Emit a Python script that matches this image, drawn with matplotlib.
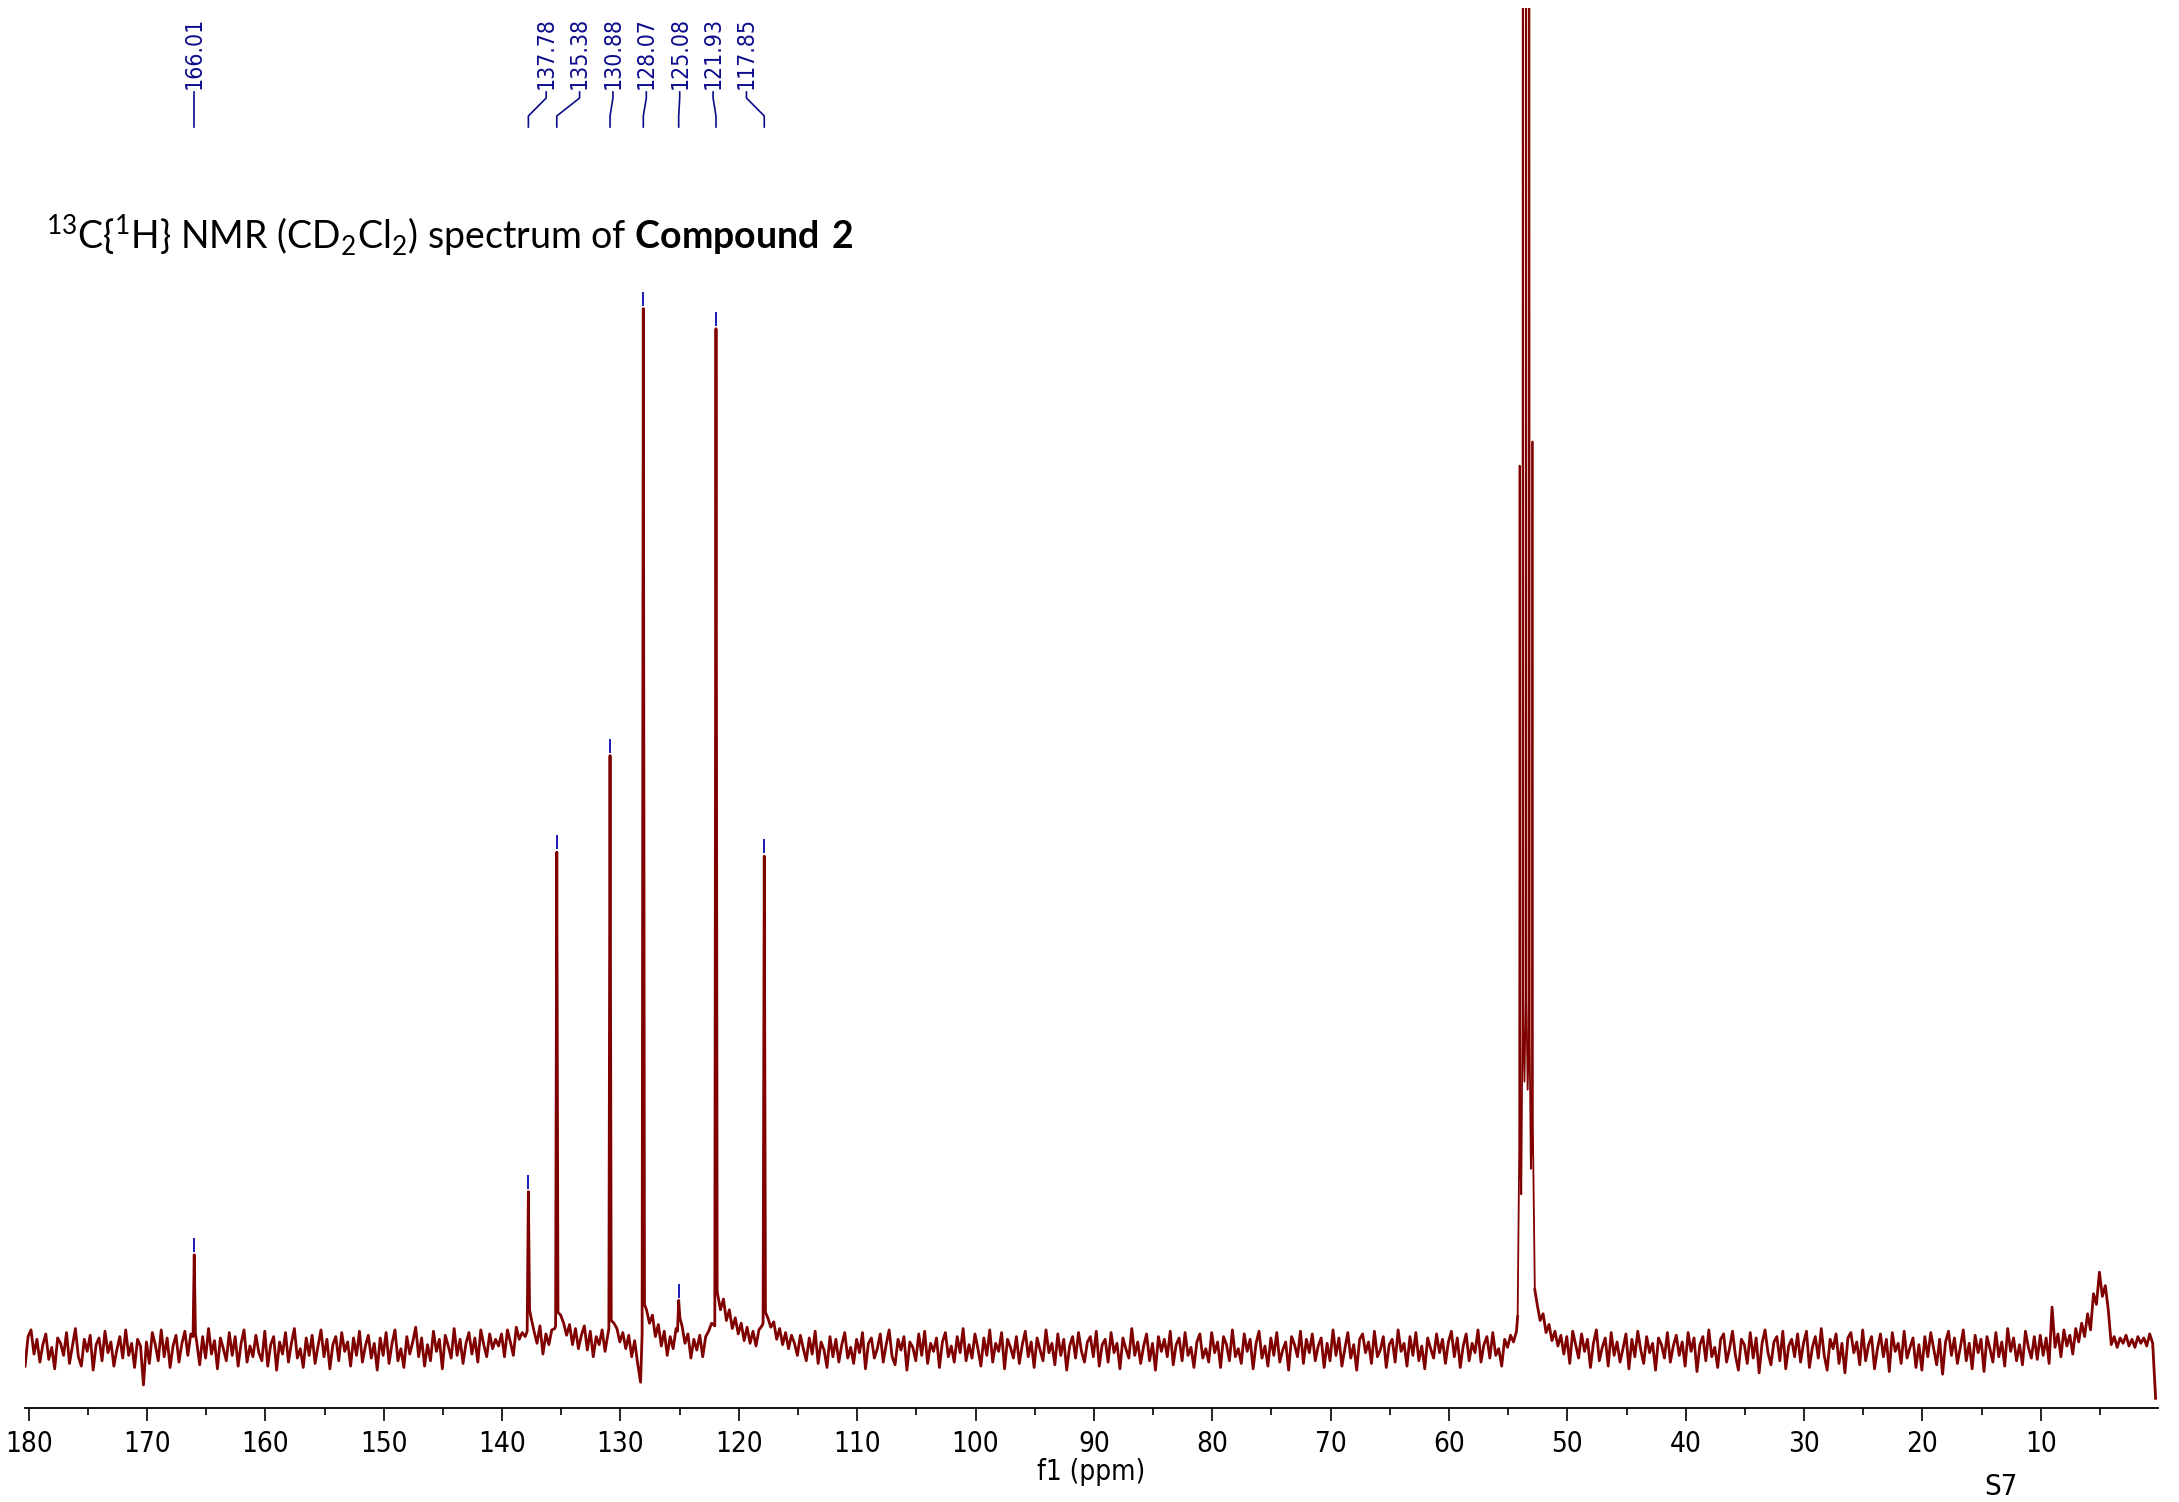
import numpy as np
import matplotlib.pyplot as plt
from matplotlib import font_manager
from matplotlib.transforms import blended_transform_factory

# labelled peaks: shift (ppm), top above baseline, tail level on each side
peak_ppm = [166.01, 137.78, 135.38, 130.88, 128.07, 125.08, 121.93, 117.85]
peak_height = [71, 118, 371, 443, 776, 37, 761, 368]
peak_foot_left = [10, 14, 18, 16, 12, 14, 18, 20]
peak_foot_right = [12, 30, 28, 22, 34, 24, 45, 28]

# CD2Cl2 solvent quintet (tops above the window are clipped)
solvent_ppm = [54.03, 53.76, 53.49, 53.22, 52.95]
solvent_height = [659, 1330, 2000, 1330, 677]
solvent_shoulder = [150, 240, 260, 230, 165]
solvent_valley = [116, 200, 194, 135]
solvent_foot = [25, 45]

# baseline every 0.25 ppm, 180.3 ppm down to 0.3 ppm
baseline_start = 180.3
baseline_step = 0.25
baseline = [
    -12, 10, 15, -3, 8, -9, 4, 12, -7, 2, -14, 9, 5, -4, 13, -10, 3, 16, -5, -12,
    8, -1, 11, -15, 4, 9, -8, 14, -2, 6, -12, 0, 10, -6, 15, -4, 5, -13, 8, 3,
    -26, 6, -10, 13, 4, -8, 15, -5, 9, -13, 3, 11, -9, 5, 14, -4, 12, 0, 6, -11,
    10, -6, 16, -3, 7, -14, 9, 1, -8, 13, -4, 10, -12, 5, 15, -9, 3, -5, 11, -2,
    -8, 14, -12, 4, 10, -15, 6, -3, 13, -9, 5, 16, -6, 1, -13, 9, -4, 11, -10, 3,
    15, -5, 8, -14, 4, 10, -8, 13, -1, 6, -12, 9, -4, 14, -9, 3, 11, -6, 5, -15,
    9, -4, 13, -10, 5, 15, -8, 1, -13, 10, -3, 6, 17, -5, 9, -12, 4, -8, 14, -1,
    8, -14, 11, 3, -6, 16, -4, 8, -10, 5, 13, -3, 9, -9, 15, 4, -5, 12, 1, 8,
    3, 12, -5, 15, 6, -4, 17, 8, 13, 10, 0, 24, 14, 5, 18, -3, 12, 4, 15, 16,
    0, 26, 20, 11, 19, 4, 16, 1, 11, 18, 0, 14, -5, 10, 4, 15, -1, 12, 0, 20,
    16, 6, 13, 1, 11, -5, 7, -10, -24, 0, 30, 20, 26, 10, 19, 3, 14, -4, 10, 1,
    16, 0, 18, 5, 12, -6, 8, 0, 11, -5, 10, 14, 20, 0, 42, 30, 38, 22, 30, 16,
    24, 12, 20, 7, 17, 5, 14, 3, 15, 18, 0, 24, 17, 21, 8, 16, 4, 13, 1, 11,
    5, -4, 11, 1, -8, 9, -3, 14, -10, 6, 0, -13, 10, -5, 8, -9, 4, 13, -6, 2,
    -10, 8, -2, 13, -14, 5, 9, -6, 1, 12, -9, 4, 15, -5, -11, 8, 0, 10, -15, 6,
    2, -8, 12, -4, 14, -10, 5, -1, 9, -13, 6, 13, -5, 3, -9, 10, -2, 16, -8, 4,
    -6, 12, 1, -12, 9, -4, 15, -9, 5, -1, 13, -14, 8, 2, -6, 10, -10, 4, 14, -5,
    6, -13, 9, 0, -8, 15, -2, 5, -11, 12, -4, 8, -15, 3, 10, -6, 13, -1, -9, 6,
    10, -5, 14, -12, 4, 8, -9, 13, -2, 5, -14, 9, 1, -6, 16, -4, 6, -10, 3, 12,
    -8, 5, -15, 10, -1, 8, -5, 14, -11, 4, 9, -8, 13, -4, 2, -13, 6, 12, -6, 1,
    -9, 13, -2, 6, -13, 10, 4, -8, 15, -5, 1, -10, 12, -1, 8, -14, 5, 14, -6, 3,
    -12, 9, -4, 13, -9, 0, 6, -15, 10, 4, -5, 14, -10, 8, -2, 12, -8, 3, 9, -13,
    5, -8, 15, -4, 9, -12, 1, 13, -6, 4, -15, 8, 12, -2, 6, -10, 14, -5, 0, 10,
    -13, 4, 8, -9, 15, -1, 5, -12, 10, -4, 13, -8, 3, -14, 9, 1, -6, 12, -2, 8,
    -10, 6, 14, -5, 9, -13, 3, 12, -8, 5, -2, 15, -9, 4, 10, -6, 13, -4, 1, -12,
    8, 2, 11, 6, 14, 0, 0, 0, 0, 0, 0, 34, 22, 27, 13, 19, 7, 14, 3, 11,
    -3, 10, -10, 14, 4, -6, 12, -1, 8, -13, 5, 15, -8, 2, 9, -12, 13, -4, 6, -9,
    1, 12, -14, 8, -5, 14, 0, -10, 10, -2, 5, -15, 9, 4, -6, 13, -9, 3, 11, -4,
    6, -12, 13, -1, 9, -16, 4, 10, -8, 15, -5, 2, -13, 8, 12, -9, 1, 14, -4, -15,
    8, 4, -10, 13, -6, 9, -17, 5, 15, -2, -11, 6, 10, -8, 14, -14, 3, 8, -5, 12,
    -9, 5, 14, -13, 2, 10, -6, 16, -4, -15, 8, 1, 12, -10, 5, -17, 9, 13, -2, 6,
    -11, 15, -8, 4, 10, -14, 1, 12, -5, 8, -16, 13, -1, 5, -10, 14, -6, 2, 9, -13,
    4, -15, 10, -5, 13, 1, -11, 8, -18, 6, 14, -4, 9, -10, 2, 15, -8, 5, -14, 11,
    -2, 8, -16, 10, 1, -9, 13, -5, 6, -12, 16, -1, 9, -8, 4, -11, 14, 2, -6, 10,
    -7, 11, -4, 9, -10, 32, 2, 12, -5, 15, 3, 11, -3, 16, 6, 20, 10, 27, 15, 42,
    34, 58, 40, 48, 30, 4, 10, 2, 9, 5, 11, 3, 8, 2, 10, 5, 9, 3, 12, 5,
    -36,
]

# assemble the trace
bx = baseline_start - baseline_step * np.arange(len(baseline))
by = np.array(baseline, dtype=float)
keep = (bx < 52.7) | (bx > 54.25)
for p in peak_ppm:
    keep &= np.abs(bx - p) > 0.125
xs = list(bx[keep])
ys = list(by[keep])
for p, h, fl, fr in zip(peak_ppm, peak_height, peak_foot_left, peak_foot_right):
    xs += [p + 0.1, p, p - 0.1]
    ys += [fl, h, fr]
xs.append(54.2)
ys.append(solvent_foot[0])
for i, (p, h, sh) in enumerate(zip(solvent_ppm, solvent_height, solvent_shoulder)):
    xs += [p + 0.035, p, p - 0.035]
    ys += [sh, h, sh]
    if i < len(solvent_valley):
        xs.append((p + solvent_ppm[i + 1]) / 2)
        ys.append(solvent_valley[i])
xs.append(52.75)
ys.append(solvent_foot[1])
xs = np.array(xs)
ys = np.array(ys)
order = np.argsort(xs)[::-1]
xs, ys = xs[order], ys[order]

W, H = 2179, 1502
fig = plt.figure(figsize=(W / 100, H / 100), dpi=100)
ax_left, ax_right, ax_top, ax_bot = 24.5, 2158, 8, 1408
ax = fig.add_axes([ax_left / W, 1 - ax_bot / H, (ax_right - ax_left) / W, (ax_bot - ax_top) / H])

red = '#800000'
blue = '#0c0c8c'
# solvent multiplet drawn a touch thinner so its lines stay apart
left = xs >= 54.2
right = xs <= 52.75
mid = ~(left | right)
ax.plot(xs[left], ys[left], color=red, lw=2.0)
ax.plot(xs[right], ys[right], color=red, lw=2.0)
seg = np.where(mid)[0]
seg = np.r_[seg[0] - 1, seg, seg[-1] + 1]
ax.plot(xs[seg], ys[seg], color=red, lw=1.3)
ax.set_xlim(180.35, 0.1)
ax.set_ylim(-43.2, 1000)

# small markers above the labelled peak tops
ax.vlines(peak_ppm, np.array(peak_height) + 2, np.array(peak_height) + 12.5, color='#1a1ab4', lw=1.4)

narrow = font_manager.FontProperties(family='DejaVu Sans', stretch='condensed')

# axis styling
for s in ['top', 'left', 'right']:
    ax.spines[s].set_visible(False)
ax.spines['bottom'].set_linewidth(1.3)
ax.set_yticks([])
ax.set_xticks(np.arange(10, 181, 10))
ax.set_xticks(np.arange(5, 181, 10), minor=True)
ax.tick_params(axis='x', which='major', direction='out', length=9, width=1.2, pad=7)
ax.tick_params(axis='x', which='minor', direction='out', length=5, width=1.2)
for lab in ax.get_xticklabels():
    lab.set_fontproperties(narrow)
    lab.set_fontsize(20)
ax.set_xlabel('f1 (ppm)', fontproperties=narrow, fontsize=20, labelpad=0)

# peak labels, spread apart where crowded
gap = 2.82
groups = [[p] for p in sorted(peak_ppm, reverse=True)]


def spread(g):
    c = (g[0] + g[-1]) / 2
    return [c + gap * ((len(g) - 1) / 2 - k) for k in range(len(g))]


merged = True
while merged:
    merged = False
    for i in range(len(groups) - 1):
        if spread(groups[i])[-1] - spread(groups[i + 1])[0] < 2 * gap:
            groups[i] = groups[i] + groups.pop(i + 1)
            merged = True
            break

tr = blended_transform_factory(ax.transData, ax.transAxes)


def ay(px):
    return (ax_bot - px) / (ax_bot - ax_top)


for g in groups:
    for p, lx in zip(g, spread(g)):
        ax.plot([lx, lx, p, p], [ay(92), ay(98), ay(116), ay(127)], color=blue,
                lw=1.2, transform=tr, clip_on=False)
        ax.text(lx, ay(89), f'{p:.2f}', rotation=90, ha='center', va='bottom',
                color=blue, fontproperties=narrow, fontsize=16.5, transform=tr)

# title and page number
plt.rcParams['mathtext.fontset'] = 'custom'
plt.rcParams['mathtext.rm'] = 'Lato'
plt.rcParams['mathtext.bf'] = 'Lato:bold'
fig.text(46 / W, 1 - 250 / H,
         r'$^{13}$C{$^{1}$H} NMR (CD$_{2}$Cl$_{2}$) spectrum of $\mathbf{Compound\ 2}$',
         family='Lato', fontsize=27, ha='left', va='baseline')
fig.text(2001 / W, 1 - 1487 / H, 'S7', fontproperties=narrow, fontsize=21, ha='center', va='center')

fig.savefig('out.png', dpi=100)
